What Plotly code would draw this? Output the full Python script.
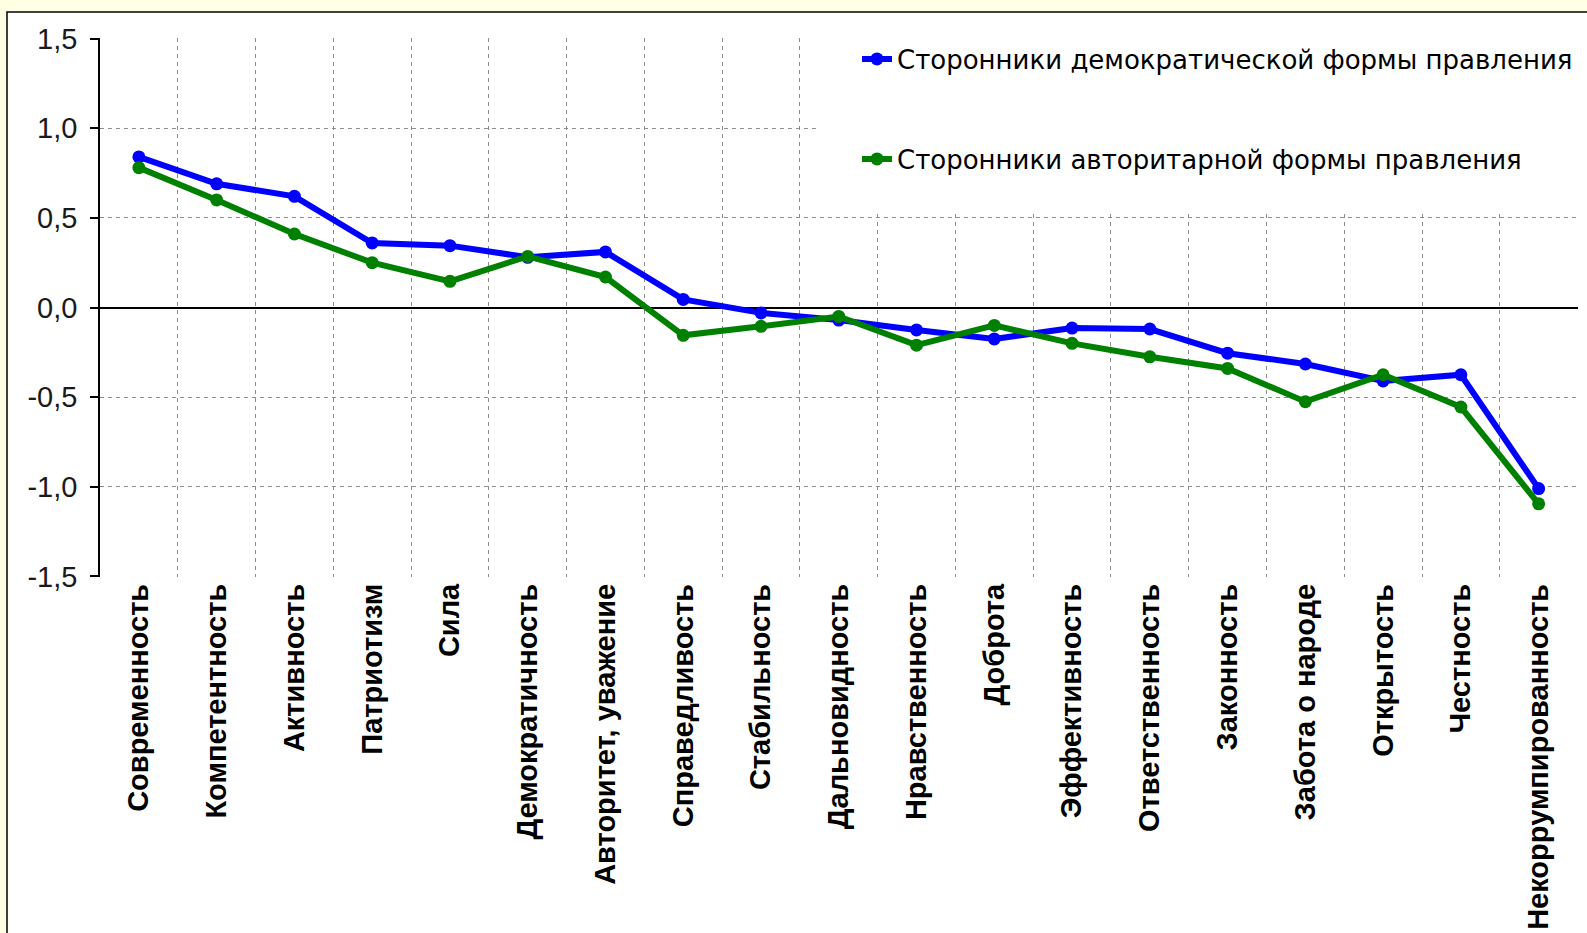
import plotly.graph_objects as go

categories = [
    "Современность", "Компетентность", "Активность", "Патриотизм", "Сила",
    "Демократичность", "Авторитет, уважение", "Справедливость", "Стабильность",
    "Дальновидность", "Нравственность", "Доброта", "Эффективность",
    "Ответственность", "Законность", "Забота о народе", "Открытость",
    "Честность", "Некоррумпированность",
]

democratic = [0.84, 0.69, 0.62, 0.36, 0.345, 0.28, 0.31, 0.045, -0.03,
              -0.07, -0.125, -0.175, -0.115, -0.12, -0.255, -0.315, -0.41,
              -0.375, -1.01]

authoritarian = [0.78, 0.60, 0.41, 0.25, 0.146, 0.285, 0.17, -0.155, -0.105,
                 -0.05, -0.21, -0.10, -0.20, -0.275, -0.34, -0.525, -0.375,
                 -0.555, -1.095]

series_names = ["Сторонники демократической формы правления",
                "Сторонники авторитарной формы правления"]

y_tick_vals = [-1.5, -1.0, -0.5, 0.0, 0.5, 1.0, 1.5]
y_tick_text = ["-1,5", "-1,0", "-0,5", "0,0", "0,5", "1,0", "1,5"]

W, H = 1587, 933
L, R, T, B = 100, 9, 38, 356
PW = W - L - R
PH = H - T - B


def px_x(p):
    return (p - L) / PW


def px_y(p):
    return (H - B - p) / PH


fig = go.Figure()
fig.add_trace(go.Scatter(
    x=categories, y=democratic, name=series_names[0], mode="lines+markers",
    line=dict(color="#0000FF", width=6), marker=dict(size=13, color="#0000FF"),
    legend="legend",
))
fig.add_trace(go.Scatter(
    x=categories, y=authoritarian, name=series_names[1], mode="lines+markers",
    line=dict(color="#008000", width=6), marker=dict(size=13, color="#008000"),
    legend="legend2",
))

grid_col = "#8c8c8c"
legend_font = dict(family="DejaVu Sans", size=26, color="black")

fig.update_layout(
    width=W, height=H,
    margin=dict(l=L, r=R, t=T, b=B, autoexpand=False),
    paper_bgcolor="#FFFFE3",
    plot_bgcolor="white",
    showlegend=True,
    legend=dict(
        x=px_x(857), y=px_y(59), xanchor="left", yanchor="middle",
        bgcolor="rgba(0,0,0,0)", font=legend_font,
    ),
    legend2=dict(
        x=px_x(857), y=px_y(159), xanchor="left", yanchor="middle",
        bgcolor="rgba(0,0,0,0)", font=legend_font,
    ),
    xaxis=dict(
        type="category", categoryorder="array", categoryarray=categories,
        range=[-0.5, len(categories) - 0.5 + 0.006],
        tickson="boundaries", ticks="", showline=False,
        showgrid=True, gridcolor=grid_col, griddash="4px,4px", gridwidth=1,
        tickangle=-90, automargin=False,
        tickfont=dict(family="Liberation Sans, Arial", size=29, color="black", weight="bold"),
        zeroline=False,
    ),
    yaxis=dict(
        range=[-1.503, 1.503], tickvals=y_tick_vals, ticktext=y_tick_text,
        showline=True, linecolor="black", linewidth=1.5,
        ticks="outside", ticklen=8, tickcolor="black", tickwidth=1.5,
        showgrid=True, gridcolor=grid_col, griddash="4px,4px", gridwidth=1,
        zeroline=True, zerolinecolor="black", zerolinewidth=1.5,
        automargin=False,
        tickfont=dict(family="Liberation Sans, Arial", size=29, color="#1a1a1a"),
        ticklabelstandoff=7,
    ),
    shapes=[
        dict(type="rect", xref="paper", yref="paper", layer="below",
             x0=px_x(7), x1=px_x(W + 20), y0=px_y(H + 20), y1=px_y(12),
             fillcolor="white", line=dict(color="black", width=1.5)),
        dict(type="rect", xref="paper", yref="paper", layer="above",
             x0=px_x(818), x1=px_x(W + 5), y0=px_y(213), y1=px_y(28),
             fillcolor="white", line=dict(width=0)),
    ],
)

fig.write_html(
    "out.html",
    config={"displayModeBar": False},
    post_script="document.body.style.margin='0';document.body.style.overflow='hidden';",
)
